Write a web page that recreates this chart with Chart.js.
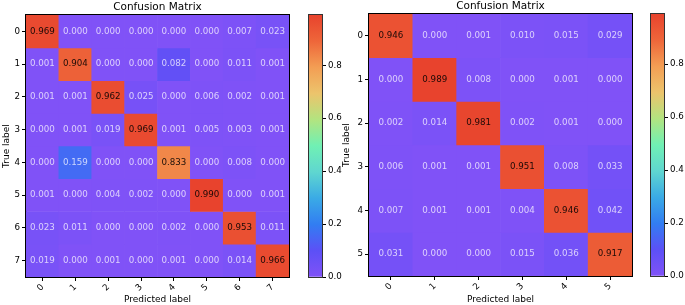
<!DOCTYPE html>
<html>
<head>
<meta charset="utf-8">
<script src="https://cdn.jsdelivr.net/npm/chart.js@4.4.1/dist/chart.umd.min.js"></script>
<style>
  body { margin: 0; background: #fff; width: 685px; height: 305px; position: relative; overflow: hidden; }
  canvas { position: absolute; top: 0; }
</style>
</head>
<body>
<canvas id="cmLeft"></canvas>
<canvas id="cbLeft"></canvas>
<canvas id="cmRight"></canvas>
<canvas id="cbRight"></canvas>
<script>
// ---- data ----
const labelsA = ['0', '1', '2', '3', '4', '5', '6', '7'];
const cmA = [
  [0.969, 0.000, 0.000, 0.000, 0.000, 0.000, 0.007, 0.023],
  [0.001, 0.904, 0.000, 0.000, 0.082, 0.000, 0.011, 0.001],
  [0.001, 0.001, 0.962, 0.025, 0.000, 0.006, 0.002, 0.001],
  [0.000, 0.001, 0.019, 0.969, 0.001, 0.005, 0.003, 0.001],
  [0.000, 0.159, 0.000, 0.000, 0.833, 0.000, 0.008, 0.000],
  [0.001, 0.000, 0.004, 0.002, 0.000, 0.990, 0.000, 0.001],
  [0.023, 0.011, 0.000, 0.000, 0.002, 0.000, 0.953, 0.011],
  [0.019, 0.000, 0.001, 0.000, 0.001, 0.000, 0.014, 0.966]
];

const labelsB = ['0', '1', '2', '3', '4', '5'];
const cmB = [
  [0.946, 0.000, 0.001, 0.010, 0.015, 0.029],
  [0.000, 0.989, 0.008, 0.000, 0.001, 0.000],
  [0.002, 0.014, 0.981, 0.002, 0.001, 0.000],
  [0.006, 0.001, 0.001, 0.951, 0.008, 0.033],
  [0.007, 0.001, 0.001, 0.004, 0.946, 0.042],
  [0.031, 0.000, 0.000, 0.015, 0.036, 0.917]
];

const colorbarTicks = [0, 0.2, 0.4, 0.6, 0.8];

// ---- colour map (rainbow, washed) ----
const cmapStops = [
  [0.00, [128, 82, 247]],
  [0.10, [92, 80, 246]],
  [0.20, [50, 125, 242]],
  [0.30, [58, 170, 230]],
  [0.40, [95, 214, 208]],
  [0.50, [112, 240, 180]],
  [0.60, [178, 228, 128]],
  [0.70, [236, 196, 108]],
  [0.80, [243, 158, 84]],
  [0.90, [238, 102, 58]],
  [1.00, [232, 67, 45]]
];

function cmap(t) {
  t = Math.max(0, Math.min(1, t));
  for (let k = 1; k < cmapStops.length; k++) {
    const [t1, c1] = cmapStops[k];
    if (t <= t1) {
      const [t0, c0] = cmapStops[k - 1];
      const f = (t - t0) / (t1 - t0);
      const c = c0.map((v, i) => Math.round(v + (c1[i] - v) * f));
      return 'rgb(' + c.join(',') + ')';
    }
  }
  return 'rgb(' + cmapStops[cmapStops.length - 1][1].join(',') + ')';
}

Chart.defaults.font.family = 'DejaVu Sans';
Chart.defaults.color = '#000';

function place(id, left, w, h) {
  const c = document.getElementById(id);
  c.width = w; c.height = h;
  c.style.left = left + 'px';
  c.style.width = w + 'px';
  c.style.height = h + 'px';
  return c;
}

function heatmap(id, left, w, labels, matrix, g) {
  const vmax = Math.max(...matrix.flat());
  const n = labels.length;
  const datasets = matrix.map((row, i) => ({
    data: row.map(() => [i, i + 1]),
    backgroundColor: row.map(v => cmap(v / vmax)),
    borderWidth: 0,
    barPercentage: 1,
    categoryPercentage: 1,
    grouped: false
  }));

  const cellText = {
    id: 'cellText',
    afterDatasetsDraw(chart) {
      const ctx = chart.ctx, xs = chart.scales.x, ys = chart.scales.y;
      ctx.save();
      ctx.font = '8.7px "DejaVu Sans"';
      ctx.textAlign = 'center';
      ctx.textBaseline = 'middle';
      matrix.forEach((row, i) => row.forEach((v, j) => {
        ctx.fillStyle = v > 0.5 ? 'rgba(0,0,0,0.88)' : 'rgba(255,255,255,0.72)';
        ctx.fillText(v.toFixed(3), xs.getPixelForValue(j), ys.getPixelForValue(i + 0.5));
      }));
      const a = chart.chartArea;
      ctx.strokeStyle = '#000';
      ctx.lineWidth = 1;
      ctx.strokeRect(Math.round(a.left) - 0.5, Math.round(a.top) - 0.5, Math.round(a.right - a.left) + 1, Math.round(a.bottom - a.top) + 1);
      ctx.restore();
    }
  };

  return new Chart(place(id, left, w, 305), {
    type: 'bar',
    data: { labels: labels, datasets: datasets },
    plugins: [cellText],
    options: {
      responsive: false,
      animation: false,
      events: [],
      layout: { padding: { left: 0, right: g.padRight, top: 0, bottom: 0 } },
      plugins: {
        legend: { display: false },
        tooltip: { enabled: false },
        title: {
          display: true,
          text: 'Confusion Matrix',
          fullSize: false,
          color: '#000',
          font: { size: 10.5, weight: 'normal', lineHeight: 1.15 },
          padding: { top: g.titleTop, bottom: 2 }
        }
      },
      scales: {
        x: {
          type: 'category',
          grid: { display: true, offset: false, drawOnChartArea: false, tickLength: 4, color: '#000' },
          border: { display: true, color: '#000' },
          ticks: { minRotation: 45, maxRotation: 45, padding: 1, font: { size: 8.7 } },
          title: { display: true, text: 'Predicted label', font: { size: 9 }, padding: { top: 0, bottom: 0 } },
          afterFit(s) { s.height = g.xHeight; }
        },
        y: {
          type: 'linear',
          reverse: true,
          min: 0,
          max: n,
          grid: { display: true, drawOnChartArea: false, tickLength: 4, color: '#000' },
          border: { display: true, color: '#000' },
          ticks: { padding: 2, font: { size: 8.7 }, callback: (v, i) => labels[i] },
          afterBuildTicks(s) { s.ticks = labels.map((l, i) => ({ value: i + 0.5 })); },
          title: { display: true, text: 'True label', font: { size: 9 }, padding: { top: 1, bottom: 0 } },
          afterFit(s) { s.width = g.yWidth; }
        }
      }
    }
  });
}

function colorbar(id, left, w, matrix, g) {
  const vmax = Math.max(...matrix.flat());
  const frame = {
    id: 'frame',
    afterDatasetsDraw(chart) {
      const a = chart.chartArea, ctx = chart.ctx;
      ctx.save();
      ctx.strokeStyle = '#333';
      ctx.lineWidth = 1;
      ctx.strokeRect(Math.round(a.left) - 0.5, Math.round(a.top) - 0.5, Math.round(a.right - a.left) + 1, Math.round(a.bottom - a.top) + 1);
      ctx.restore();
    }
  };
  return new Chart(place(id, left, w, 305), {
    type: 'bar',
    data: {
      labels: [''],
      datasets: [{
        data: [[0, vmax]],
        borderWidth: 0,
        barPercentage: 1,
        categoryPercentage: 1,
        backgroundColor(c) {
          const ch = c.chart;
          if (!ch.chartArea) return null;
          const ys = ch.scales.y;
          const grad = ch.ctx.createLinearGradient(0, ys.getPixelForValue(0), 0, ys.getPixelForValue(vmax));
          cmapStops.forEach(([t, col]) => grad.addColorStop(t, 'rgb(' + col.join(',') + ')'));
          return grad;
        }
      }]
    },
    plugins: [frame],
    options: {
      responsive: false,
      animation: false,
      events: [],
      layout: { padding: { left: 9, right: 0, top: g.top, bottom: g.bottom } },
      plugins: { legend: { display: false }, tooltip: { enabled: false } },
      scales: {
        x: { display: false },
        y: {
          type: 'linear',
          position: 'right',
          min: 0,
          max: vmax,
          grid: { display: true, drawOnChartArea: false, tickLength: 4, color: '#000' },
          border: { display: true, color: '#333' },
          ticks: { padding: 2, font: { size: 8.7 }, callback: v => v.toFixed(1) },
          afterBuildTicks(s) { s.ticks = colorbarTicks.map(v => ({ value: v })); },
          afterFit(s) { s.width = w - 9 - 13; }
        }
      }
    }
  });
}

heatmap('cmLeft', 0, 295, labelsA, cmA, { yWidth: 26, xHeight: 28, padRight: 6, titleTop: 1 });
colorbar('cbLeft', 300, 45, cmA, { top: 15, bottom: 28 });
heatmap('cmRight', 340, 300, labelsB, cmB, { yWidth: 29, xHeight: 29, padRight: 8, titleTop: 0 });
colorbar('cbRight', 642, 43, cmB, { top: 14, bottom: 29 });
</script>
</body>
</html>
